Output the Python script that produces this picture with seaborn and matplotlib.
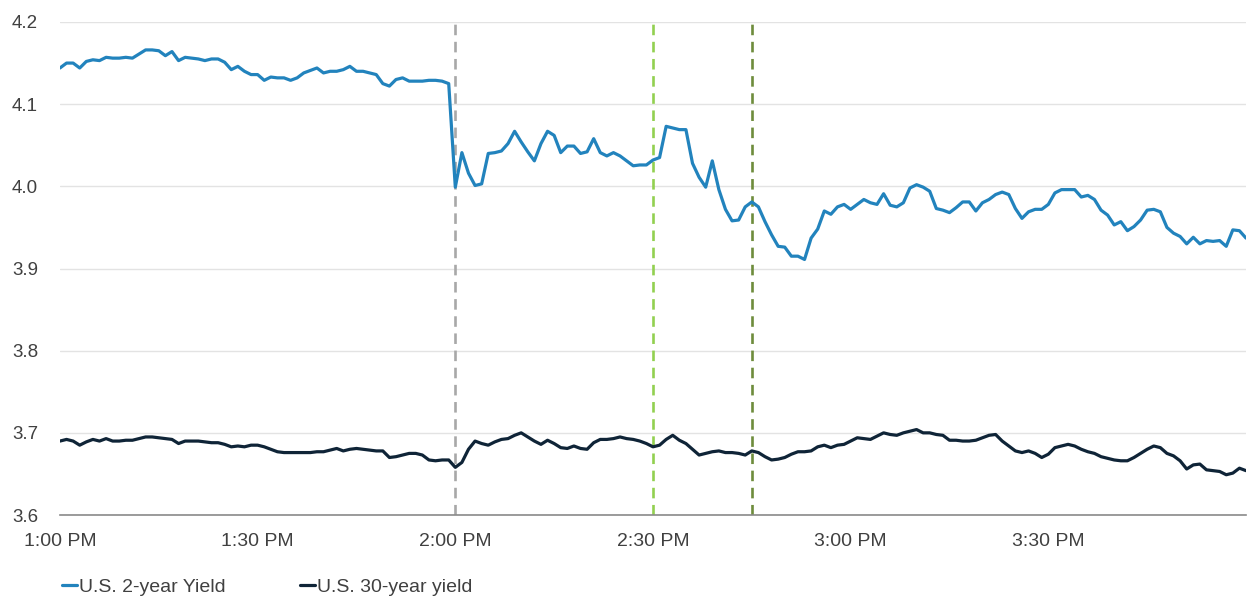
import numpy as np
import pandas as pd
import matplotlib
matplotlib.use("Agg")
import matplotlib.pyplot as plt
import seaborn as sns

# ---------------- data ----------------
minutes = list(range(0, 181))  # minutes after 1:00 PM

yield_2y = [
    4.144, 4.150, 4.150, 4.144, 4.152, 4.154, 4.153, 4.157, 4.156, 4.156,
    4.157, 4.156, 4.161, 4.166, 4.166, 4.165, 4.159, 4.164, 4.153, 4.157,
    4.156, 4.155, 4.153, 4.155, 4.155, 4.151, 4.142, 4.146, 4.140, 4.136,
    4.136, 4.129, 4.133, 4.132, 4.132, 4.129, 4.132, 4.138, 4.141, 4.144,
    4.138, 4.140, 4.140, 4.142, 4.146, 4.140, 4.140, 4.138, 4.136, 4.125,
    4.122, 4.130, 4.132, 4.128, 4.128, 4.128, 4.129, 4.129, 4.128, 4.125,
    3.999, 4.041, 4.016, 4.001, 4.003, 4.040, 4.041, 4.043, 4.052, 4.067,
    4.054, 4.042, 4.031, 4.052, 4.067, 4.062, 4.041, 4.049, 4.049, 4.040,
    4.042, 4.058, 4.041, 4.037, 4.041, 4.037, 4.031, 4.025, 4.026, 4.026,
    4.032, 4.035, 4.073, 4.071, 4.069, 4.069, 4.028, 4.011, 3.999, 4.031,
    3.996, 3.972, 3.958, 3.959, 3.975, 3.981, 3.975, 3.957, 3.941, 3.927,
    3.926, 3.915, 3.915, 3.911, 3.937, 3.948, 3.970, 3.966, 3.975, 3.978,
    3.972, 3.978, 3.984, 3.980, 3.978, 3.991, 3.977, 3.975, 3.980, 3.998,
    4.002, 3.999, 3.994, 3.973, 3.971, 3.968, 3.974, 3.981, 3.981, 3.970,
    3.980, 3.984, 3.990, 3.993, 3.990, 3.973, 3.961, 3.969, 3.972, 3.972,
    3.978, 3.992, 3.996, 3.996, 3.996, 3.987, 3.989, 3.984, 3.971, 3.965,
    3.953, 3.957, 3.946, 3.951, 3.959, 3.971, 3.972, 3.969, 3.950, 3.943,
    3.939, 3.930, 3.938, 3.930, 3.934, 3.933, 3.934, 3.927, 3.947, 3.946,
    3.937,
]

yield_30y = [
    3.690, 3.692, 3.690, 3.685, 3.689, 3.692, 3.690, 3.693, 3.690, 3.690,
    3.691, 3.691, 3.693, 3.695, 3.695, 3.694, 3.693, 3.692, 3.687, 3.690,
    3.690, 3.690, 3.689, 3.688, 3.688, 3.686, 3.683, 3.684, 3.683, 3.685,
    3.685, 3.683, 3.680, 3.677, 3.676, 3.676, 3.676, 3.676, 3.676, 3.677,
    3.677, 3.679, 3.681, 3.678, 3.680, 3.681, 3.680, 3.679, 3.678, 3.678,
    3.670, 3.671, 3.673, 3.675, 3.675, 3.673, 3.667, 3.666, 3.667, 3.667,
    3.658, 3.664, 3.680, 3.690, 3.687, 3.685, 3.689, 3.692, 3.693, 3.697,
    3.700, 3.695, 3.690, 3.686, 3.691, 3.687, 3.682, 3.681, 3.684, 3.681,
    3.680, 3.688, 3.692, 3.692, 3.693, 3.695, 3.693, 3.692, 3.690, 3.687,
    3.683, 3.685, 3.692, 3.697, 3.691, 3.687, 3.680, 3.673, 3.675, 3.677,
    3.678, 3.676, 3.676, 3.675, 3.673, 3.678, 3.676, 3.671, 3.667, 3.668,
    3.670, 3.674, 3.677, 3.677, 3.678, 3.683, 3.685, 3.682, 3.685, 3.686,
    3.690, 3.694, 3.693, 3.692, 3.696, 3.700, 3.698, 3.697, 3.700, 3.702,
    3.704, 3.700, 3.700, 3.698, 3.697, 3.691, 3.691, 3.690, 3.690, 3.691,
    3.694, 3.697, 3.698, 3.690, 3.684, 3.678, 3.676, 3.678, 3.675, 3.670,
    3.674, 3.682, 3.684, 3.686, 3.684, 3.680, 3.677, 3.675, 3.671, 3.669,
    3.667, 3.666, 3.666, 3.670, 3.675, 3.680, 3.684, 3.682, 3.675, 3.672,
    3.666, 3.656, 3.661, 3.662, 3.655, 3.654, 3.653, 3.649, 3.651, 3.657,
    3.654,
]

series_names = ["U.S. 2-year Yield", "U.S. 30-year yield"]
tick_minutes = [0, 15, 30, 45, 60, 75, 90, 105, 120, 135, 150, 165, 180]
tick_labels = ["1:00 PM", "", "1:30 PM", "", "2:00 PM", "", "2:30 PM", "",
               "3:00 PM", "", "3:30 PM", "", ""]
y_ticks = [3.6, 3.7, 3.8, 3.9, 4.0, 4.1, 4.2]
event_minutes = [60, 90, 105]

# ---------------- build frame ----------------
df = pd.DataFrame({
    "minute": minutes * 2,
    "series": [series_names[0]] * len(minutes) + [series_names[1]] * len(minutes),
    "value": yield_2y + yield_30y,
})

sns.set_theme(style="white")
plt.rcParams["font.family"] = ["Liberation Sans", "DejaVu Sans"]

fig = plt.figure(figsize=(12.49, 5.99), dpi=100)
ax = fig.add_axes([0.048, 0.1402, 0.9496, 0.8231])

palette = {series_names[0]: "#2283bd", series_names[1]: "#0f2437"}
sns.lineplot(data=df, x="minute", y="value", hue="series", palette=palette,
             linewidth=2.3, ax=ax, legend=True)

event_colors = ["#a8a8a8", "#92d050", "#6e8c3c"]
for m, c in zip(event_minutes, event_colors):
    ax.axvline(m, color=c, linestyle=(0, (4, 2.5)), linewidth=1.9, zorder=1)

ax.set_xlim(0, 180)
ax.set_ylim(3.6, 4.2)
ax.set_yticks(y_ticks)
ax.set_yticklabels([f"{v:.1f}" for v in y_ticks])
ax.set_xticks(tick_minutes)
ax.set_xticklabels(tick_labels)
ax.grid(axis="y", color="#e3e3e3", linewidth=1)
ax.set_axisbelow(True)
ax.set_xlabel("")
ax.set_ylabel("")

for s in ["top", "right", "left"]:
    ax.spines[s].set_visible(False)
ax.spines["bottom"].set_color("#8a8a8a")
ax.spines["bottom"].set_linewidth(1.2)

ax.tick_params(axis="x", which="major", direction="out", length=7, width=1,
               color="#8a8a8a", labelsize=14, labelcolor="#404040", pad=6)
ax.tick_params(axis="y", length=0, labelsize=13.5, labelcolor="#404040")
for lbl in ax.get_yticklabels():
    lbl.set_horizontalalignment("left")
ax.yaxis.set_tick_params(pad=34.5)

handles, labels = ax.get_legend_handles_labels()
leg = ax.legend(handles, labels, loc="center left",
                bbox_to_anchor=(0.0017, -0.146), ncol=2, frameon=False,
                borderpad=0, borderaxespad=0,
                handlelength=0.75, handletextpad=0.15, columnspacing=3.8,
                fontsize=14, labelcolor="#404040")

fig.savefig("out.png", dpi=100, facecolor="white")
